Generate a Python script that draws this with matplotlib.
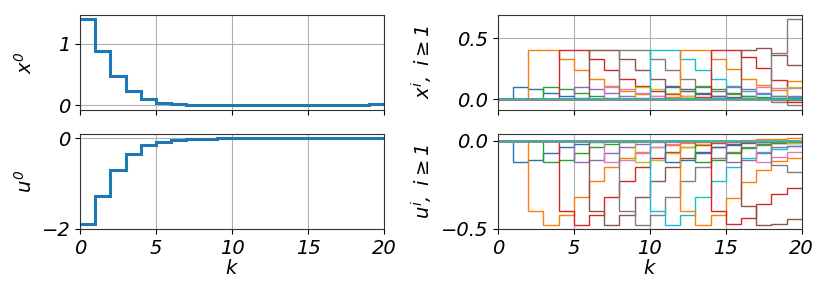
import numpy as np
import matplotlib
matplotlib.use("Agg")
import matplotlib.pyplot as plt

plt.rcParams['font.family'] = ['DejaVu Sans']
plt.rcParams['font.style'] = 'italic'
plt.rcParams['font.size'] = 14
plt.rcParams['mathtext.default'] = 'it'

# time grid (segment edges) and the reference agent
k = np.arange(21)
x0 = [1.40, 0.88, 0.47, 0.235, 0.105, 0.045, 0.016, 0.006, 0.002, 0.0,
      0.0, 0.0, 0.0, 0.0, 0.0, 0.0, 0.003, 0.008, 0.014, 0.02]
u0 = [-1.90, -1.27, -0.71, -0.35, -0.155, -0.08, -0.037, -0.015, -0.006, -0.002,
      0.0, 0.0, 0.0, 0.0, 0.0, 0.0, 0.0, 0.0, 0.0, 0.0]

# agents i >= 1: step at which each one enters, then its values up to k = 19
agent_start = list(range(1, 21))
agent_x = [
    [0.10, 0.08, 0.05, 0.025, 0.012, 0.006, 0.003, 0.002, 0.001, 0.0, 0.0, 0.0, 0.0, 0.0, 0.0, 0.0, 0.0, 0.0, 0.0],
    [0.40, 0.40, 0.33, 0.24, 0.165, 0.11, 0.07, 0.045, 0.028, 0.017, 0.01, 0.006, 0.004, 0.002, 0.001, 0.0, 0.0, 0.0],
    [0.10, 0.08, 0.05, 0.025, 0.012, 0.006, 0.003, 0.002, 0.001, 0.0, 0.0, 0.0, 0.0, 0.0, 0.0, 0.0, 0.0],
    [0.40, 0.40, 0.33, 0.24, 0.165, 0.11, 0.07, 0.045, 0.028, 0.017, 0.01, 0.006, 0.003, 0.0, -0.005, -0.01],
    [0.10, 0.08, 0.05, 0.025, 0.012, 0.006, 0.003, 0.002, 0.001, 0.0, 0.0, 0.0, 0.0, 0.0, 0.0],
    [0.40, 0.40, 0.33, 0.24, 0.165, 0.11, 0.07, 0.045, 0.028, 0.017, 0.01, 0.006, 0.004, 0.003],
    [0.10, 0.08, 0.05, 0.025, 0.012, 0.006, 0.003, 0.002, 0.001, 0.0, 0.0, 0.0, 0.0],
    [0.40, 0.40, 0.33, 0.24, 0.165, 0.11, 0.07, 0.045, 0.028, 0.01, -0.022, -0.05],
    [0.10, 0.08, 0.05, 0.025, 0.012, 0.006, 0.003, 0.002, 0.001, 0.0, 0.0],
    [0.40, 0.40, 0.33, 0.24, 0.167, 0.107, 0.07, 0.045, 0.03, 0.02],
    [0.10, 0.08, 0.05, 0.025, 0.012, 0.006, 0.004, 0.003, 0.003],
    [0.40, 0.40, 0.33, 0.245, 0.167, 0.118, 0.078, 0.15],
    [0.10, 0.08, 0.05, 0.025, 0.015, 0.01, 0.01],
    [0.40, 0.406, 0.346, 0.255, 0.154, -0.019],
    [0.10, 0.08, 0.05, 0.03, 0.03],
    [0.40, 0.423, 0.365, 0.283],
    [0.10, 0.095, 0.09],
    [0.38, 0.656],
    [0.10],
    [],
]
agent_u = [
    [-0.12, -0.108, -0.07, -0.038, -0.019, -0.009, -0.004, -0.002, -0.001, 0.0, 0.0, 0.0, 0.0, 0.0, 0.0, 0.0, 0.0, 0.0, 0.0],
    [-0.40, -0.475, -0.42, -0.32, -0.23, -0.15, -0.097, -0.062, -0.038, -0.023, -0.014, -0.008, -0.004, 0.0, 0.004, 0.01, 0.012, 0.014],
    [-0.12, -0.108, -0.07, -0.038, -0.019, -0.009, -0.004, -0.002, -0.001, 0.0, 0.0, 0.0, 0.0, 0.0, 0.0, 0.0, 0.0],
    [-0.40, -0.475, -0.42, -0.32, -0.23, -0.15, -0.097, -0.062, -0.038, -0.023, -0.014, -0.008, -0.005, -0.003, -0.002, 0.0],
    [-0.12, -0.108, -0.07, -0.038, -0.019, -0.009, -0.004, -0.002, -0.001, 0.0, 0.0, 0.0, 0.0, 0.0, 0.0],
    [-0.40, -0.475, -0.42, -0.32, -0.23, -0.15, -0.097, -0.062, -0.038, -0.023, -0.014, -0.008, -0.005, -0.003],
    [-0.12, -0.108, -0.07, -0.038, -0.019, -0.009, -0.004, -0.002, -0.001, 0.0, 0.0, 0.0, 0.0],
    [-0.40, -0.475, -0.42, -0.32, -0.23, -0.15, -0.097, -0.062, -0.038, -0.023, -0.01, -0.005],
    [-0.12, -0.108, -0.07, -0.038, -0.019, -0.009, -0.004, -0.002, -0.001, 0.0, 0.0],
    [-0.40, -0.475, -0.42, -0.32, -0.227, -0.15, -0.097, -0.066, -0.045, -0.03],
    [-0.12, -0.108, -0.07, -0.038, -0.019, -0.009, -0.005, -0.003, -0.003],
    [-0.40, -0.475, -0.42, -0.324, -0.233, -0.163, -0.117, -0.097],
    [-0.12, -0.108, -0.07, -0.04, -0.02, -0.012, -0.01],
    [-0.40, -0.474, -0.44, -0.36, -0.30, -0.27],
    [-0.12, -0.108, -0.07, -0.038, -0.028],
    [-0.37, -0.475, -0.47, -0.445],
    [-0.12, -0.092, -0.066],
    [-0.14, -0.175],
    [-0.01],
    [],
]

fig, axes = plt.subplots(2, 2, figsize=(8.3, 2.97), dpi=100, sharex=True)
fig.subplots_adjust(left=0.0964, right=0.966, top=0.9505, bottom=0.229,
                    wspace=0.374, hspace=0.256)
ax_x0, ax_xi = axes[0]
ax_u0, ax_ui = axes[1]

ax_x0.stairs(x0, k, baseline=None, color='C0', lw=2.2, zorder=2)
ax_u0.stairs(u0, k, baseline=None, color='C0', lw=2.2, zorder=2)

for i, s in enumerate(agent_start):
    xs = [0.0] * s + agent_x[i]
    us = [0.0] * s + agent_u[i]
    ax_xi.stairs(xs[:20], k, baseline=None, color='C%d' % (i % 10), lw=1, zorder=2)
    ax_ui.stairs(us[:20], k, baseline=None, color='C%d' % (i % 10), lw=1, zorder=2)

ax_x0.set_ylabel('$x^0$')
ax_u0.set_ylabel('$u^0$')
ax_xi.set_ylabel(r'$x^i,\ i \geq 1$')
ax_ui.set_ylabel(r'$u^i,\ i \geq 1$')
ax_u0.set_xlabel('$k$', labelpad=1)
ax_ui.set_xlabel('$k$', labelpad=1)

ax_x0.set_yticks([0, 1])
ax_u0.set_yticks([-2, 0])
ax_xi.set_yticks([0.0, 0.5])
ax_ui.set_yticks([-0.5, 0.0])
ax_xi.set_yticklabels(['0.0', '0.5'])
ax_ui.set_yticklabels(['\u22120.5', '0.0'])

for ax in axes.flat:
    ax.set_xlim(0, 20)
    ax.set_xticks([0, 5, 10, 15, 20])
    ax.grid(True)
    for sp in ax.spines.values():
        sp.set_color('#333333')

fig.align_ylabels(axes[:, 0])
fig.align_ylabels(axes[:, 1])

fig.savefig('out.png', dpi=100)
